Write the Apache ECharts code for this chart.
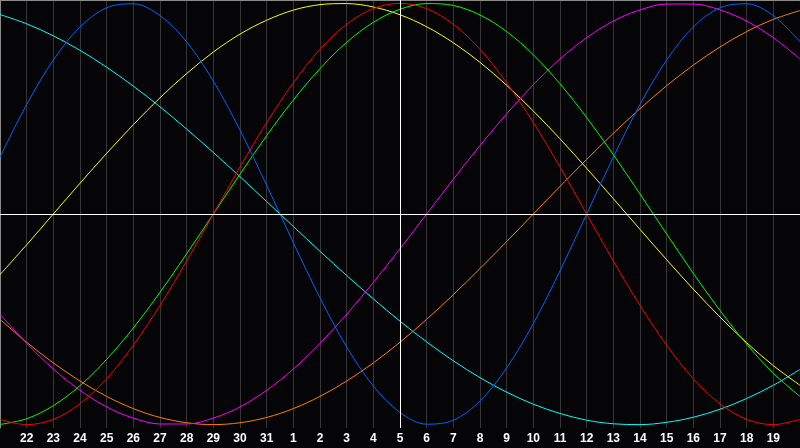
<!DOCTYPE html>
<html>
<head>
<meta charset="utf-8">
<script src="https://cdn.jsdelivr.net/npm/echarts@6/dist/echarts.min.js"></script>
<style>
  html, body { margin: 0; padding: 0; background: #050507; }
  #main { width: 800px; height: 448px; }
</style>
</head>
<body>
<div id="main"></div>
<script>
// days shown along the bottom (21st .. 20th of next month)
var days = ['21', '22', '23', '24', '25', '26', '27', '28', '29', '30', '31',
  '1', '2', '3', '4', '5', '6', '7', '8', '9', '10',
  '11', '12', '13', '14', '15', '16', '17', '18', '19', '20'];
var today = '5';

// cycle values, one per day
var physical = [0.270, 0.520, 0.731, 0.888, 0.979, 0.998, 0.942, 0.817, 0.631, 0.398, 0.136,
  -0.136, -0.398, -0.631, -0.817, -0.942, -0.998, -0.979, -0.888, -0.731, -0.520,
  -0.270, 0, 0.270, 0.520, 0.731, 0.888, 0.979, 0.998, 0.942, 0.817];
var emotional = [-0.975, -1, -0.975, -0.901, -0.782, -0.623, -0.434, -0.223, 0, 0.223, 0.434,
  0.623, 0.782, 0.901, 0.975, 1, 0.975, 0.901, 0.782, 0.623, 0.434,
  0.223, 0, -0.223, -0.434, -0.623, -0.782, -0.901, -0.975, -1, -0.975];
var intellectual = [-0.999, -0.972, -0.910, -0.815, -0.690, -0.541, -0.372, -0.189, 0, 0.189, 0.372,
  0.541, 0.690, 0.815, 0.910, 0.972, 0.999, 0.990, 0.945, 0.866, 0.756,
  0.618, 0.458, 0.282, 0.095, -0.095, -0.282, -0.458, -0.618, -0.756, -0.866];
var intuitive = [-0.476, -0.614, -0.736, -0.837, -0.916, -0.969, -0.997, -0.997, -0.969, -0.916, -0.837,
  -0.736, -0.614, -0.476, -0.325, -0.165, 0, 0.165, 0.325, 0.476, 0.614,
  0.736, 0.837, 0.916, 0.969, 0.997, 0.997, 0.969, 0.916, 0.837, 0.736];
var aesthetic = [-0.288, -0.146, 0, 0.146, 0.288, 0.424, 0.552, 0.667, 0.769, 0.854, 0.920,
  0.968, 0.994, 0.999, 0.983, 0.946, 0.889, 0.813, 0.720, 0.611, 0.489,
  0.357, 0.217, 0.073, -0.073, -0.217, -0.357, -0.489, -0.611, -0.720, -0.813];
var awareness = [-0.500, -0.609, -0.707, -0.793, -0.866, -0.924, -0.966, -0.991, -1, -0.991, -0.966,
  -0.924, -0.866, -0.793, -0.707, -0.609, -0.500, -0.383, -0.259, -0.131, 0,
  0.131, 0.259, 0.383, 0.500, 0.609, 0.707, 0.793, 0.866, 0.924, 0.966];
var spiritual = [0.947, 0.903, 0.846, 0.777, 0.697, 0.607, 0.509, 0.403, 0.292, 0.177, 0.059,
  -0.059, -0.177, -0.292, -0.403, -0.509, -0.607, -0.697, -0.777, -0.846, -0.903,
  -0.947, -0.979, -0.996, -1.000, -0.989, -0.965, -0.927, -0.876, -0.813, -0.738];

var myChart = echarts.init(document.getElementById('main'));

function curve(name, data, color) {
  return {
    name: name,
    type: 'line',
    data: data,
    smooth: 0.34,
    symbol: 'none',
    animation: false,
    lineStyle: { color: color, width: 1 }
  };
}

var series = [
  curve('Spiritual', spiritual, '#00ffff'),
  curve('Awareness', awareness, '#ff8000'),
  curve('Aesthetic', aesthetic, '#ffff00'),
  curve('Intuitive', intuitive, '#ff00ff'),
  curve('Intellectual', intellectual, '#00ff00'),
  curve('Emotional', emotional, '#ff0000'),
  curve('Physical', physical, '#0064ff')
];

// white cross: today and the zero line
series[0].markLine = {
  silent: true,
  symbol: 'none',
  animation: false,
  label: { show: false },
  lineStyle: { color: '#ffffff', width: 1, type: 'solid' },
  data: [{ xAxis: today }, { yAxis: 0 }]
};

var option = {
  backgroundColor: '#050507',
  animation: false,
  grid: { left: 0, right: 0, top: 0, bottom: 20 },
  xAxis: [{
    type: 'category',
    data: days,
    boundaryGap: false,
    axisLine: { show: true, lineStyle: { color: '#9a9a9a', width: 1 } },
    axisTick: { show: false },
    splitLine: { show: true, interval: 0, lineStyle: { color: '#363636', width: 1 } },
    axisLabel: {
      interval: function (idx) { return idx > 0 && idx < days.length - 1; },
      color: '#ffffff',
      fontFamily: 'Liberation Sans',
      fontWeight: 'bold',
      fontSize: 12,
      margin: 5
    }
  }, {
    type: 'category',
    data: days,
    position: 'top',
    boundaryGap: false,
    axisLine: { show: true, lineStyle: { color: '#8a8a8a', width: 1 } },
    axisTick: { show: false },
    axisLabel: { show: false },
    splitLine: { show: false }
  }],
  yAxis: {
    type: 'value',
    min: -1.016,
    max: 1.016,
    axisLine: { show: true, lineStyle: { color: '#8a8a8a', width: 1 } },
    axisTick: { show: false },
    axisLabel: { show: false },
    splitLine: { show: false }
  },
  series: series
};

myChart.setOption(option);
</script>
</body>
</html>
